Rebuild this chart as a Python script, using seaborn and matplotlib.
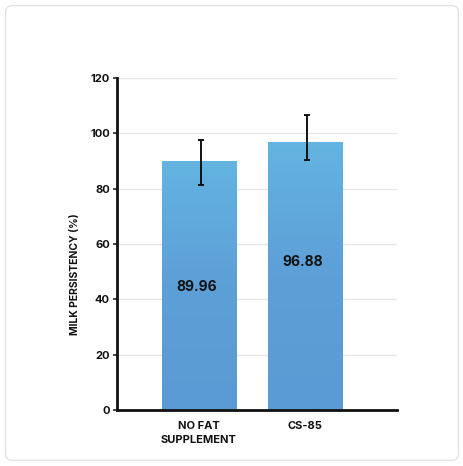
import numpy as np
import pandas as pd
import matplotlib
matplotlib.use("Agg")
import matplotlib.pyplot as plt
import seaborn as sns
from matplotlib.colors import LinearSegmentedColormap
from matplotlib.patches import FancyBboxPatch

groups = ["NO FAT\nSUPPLEMENT", "CS-85"]
values = [89.96, 96.88]
err_low = [81.2, 90.2]
err_high = [97.4, 106.6]
label_y = [44.5, 53.5]
yticks = [0, 20, 40, 60, 80, 100, 120]

sns.set_style("white")
plt.rcParams['font.family'] = ['Inter', 'DejaVu Sans']

df = pd.DataFrame({"group": groups, "value": values})

fig = plt.figure(figsize=(4.64, 4.66), dpi=100)
# faint rounded frame around the card
frame = FancyBboxPatch((0.012, 0.012), 0.976, 0.976, boxstyle="round,pad=0,rounding_size=0.015",
                       transform=fig.transFigure, fill=False, edgecolor="#e2e2e2", linewidth=1.0)
fig.patches.append(frame)

ax = fig.add_axes([0.252, 0.120, 0.604, 0.713])
sns.barplot(data=df, x="group", y="value", ax=ax, width=0.70, errorbar=None, color="#5b9bd5")

ax.set_xlim(-0.77, 1.87)
ax.set_ylim(0, 120)
ax.set_yticks(yticks)
ax.yaxis.grid(True, color="#e6e6e6", linewidth=1.0)
ax.set_axisbelow(True)

# vertical gradient in each bar
cmap = LinearSegmentedColormap.from_list("bar", ["#5b9bd5", "#5d9fd7", "#63b4e1"])
grad = np.linspace(0, 1, 256).reshape(-1, 1)
for p in ax.patches:
    x0, w, h = p.get_x(), p.get_width(), p.get_height()
    im = ax.imshow(grad, cmap=cmap, aspect="auto", origin="lower",
                   extent=[x0, x0 + w, 0, h], zorder=2)
    im.set_clip_path(p)
    p.set_facecolor("none")
    p.set_edgecolor("none")

xs = np.arange(len(values)) + 0.02
yerr = [np.array(values) - np.array(err_low), np.array(err_high) - np.array(values)]
ax.errorbar(xs, values, yerr=yerr, fmt="none", ecolor="#111111", elinewidth=1.4,
            capsize=2.5, capthick=1.4, zorder=4)

for i, (v, ly) in enumerate(zip(values, label_y)):
    ax.text(i - 0.02, ly, f"{v:.2f}", ha="center", va="center", fontsize=10,
            fontweight="bold", color="#111111", zorder=5)

sns.despine(ax=ax)
ax.spines["left"].set_linewidth(2)
ax.spines["bottom"].set_linewidth(2)
ax.spines["left"].set_color("#111111")
ax.spines["bottom"].set_color("#111111")
ax.tick_params(axis="y", length=3, width=1.2, labelsize=8, pad=2, left=True)
ax.tick_params(axis="x", length=0, labelsize=8, pad=8)
for t in ax.get_xticklabels() + ax.get_yticklabels():
    t.set_fontweight("bold")
    t.set_color("#111111")
    t.set_linespacing(1.45)
ax.set_xlabel("")
ax.set_ylabel("MILK PERSISTENCY (%)", fontsize=7.5, fontweight="bold", color="#111111")
ax.yaxis.set_label_coords(-0.13, 0.41)

fig.savefig("out.png", dpi=100)
